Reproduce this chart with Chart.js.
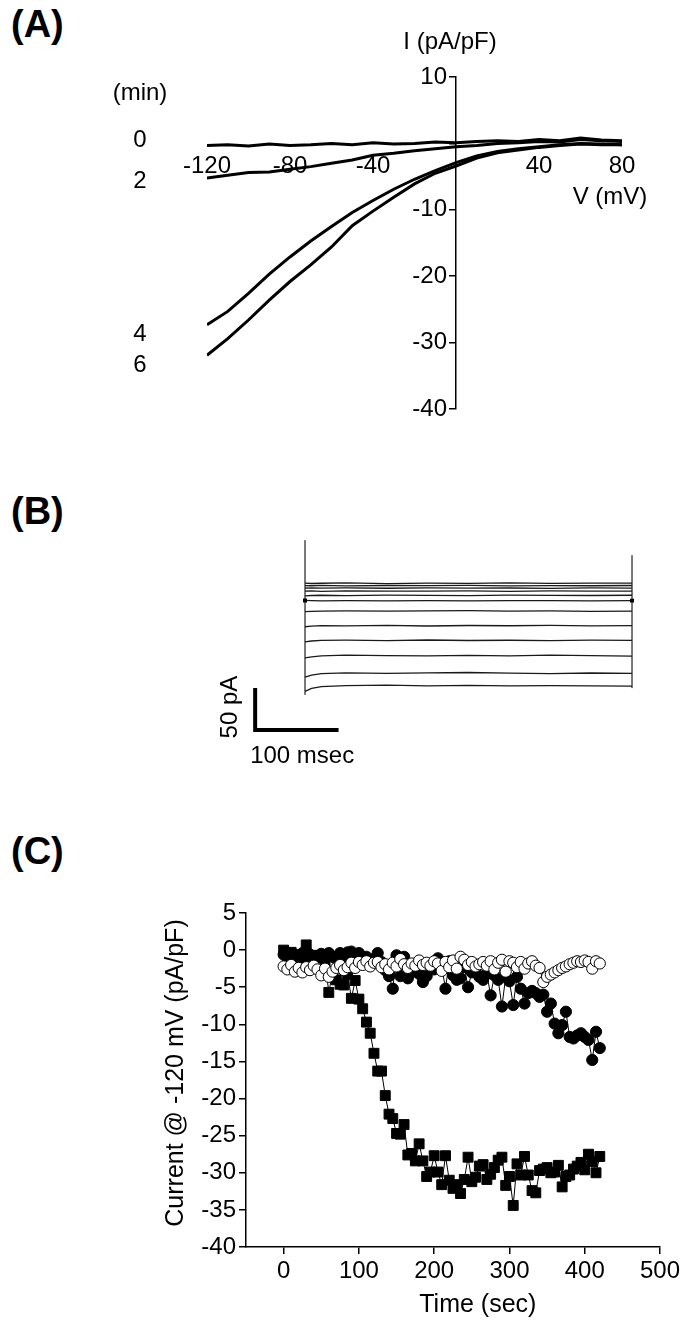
<!DOCTYPE html>
<html>
<head>
<meta charset="utf-8">
<script src="https://cdn.jsdelivr.net/npm/chart.js@4.4.0/dist/chart.umd.min.js"></script>
<style>
  body { margin: 0; background: #fff; width: 684px; height: 1323px; position: relative; overflow: hidden;
         font-family: "Liberation Sans", Arial, sans-serif; }
  .panel-label { position: absolute; left: 11px; font-weight: bold; font-size: 38px; line-height: 1; color: #000; }
  canvas { position: absolute; left: 0; }
</style>
</head>
<body>
<div class="panel-label" style="top:5px">(A)</div>
<div class="panel-label" style="top:492px">(B)</div>
<div class="panel-label" style="top:832px">(C)</div>
<canvas id="chartA" width="684" height="470" style="top:0"></canvas>
<canvas id="chartB" width="684" height="320" style="top:480px"></canvas>
<canvas id="chartC" width="684" height="443" style="top:880px"></canvas>
<script>
// ---- (A) I-V ramps at 0, 2, 4, 6 min ----
const voltageMV = [-120, -110, -100, -90, -80, -70, -60, -50, -40, -30, -20, -10, 0, 10, 20, 30, 40, 50, 60, 70, 80];
const iv0min = [-0.3, -0.2, -0.4, -0.1, -0.3, -0.2, 0.0, -0.2, 0.1, -0.1, 0.0, 0.2, 0.1, 0.3, 0.4, 0.3, 0.6, 0.4, 0.8, 0.5, 0.4];
const iv2min = [-5.2, -4.8, -4.4, -4.3, -3.9, -3.5, -3.0, -2.5, -1.8, -1.5, -1.1, -0.8, -0.5, -0.3, 0.0, 0.1, 0.3, 0.2, 0.6, 0.4, 0.3];
const iv4min = [-27.3, -25.3, -22.6, -19.7, -17.1, -14.7, -12.5, -10.4, -8.6, -6.9, -5.4, -4.1, -2.9, -1.9, -1.2, -0.8, -0.5, -0.2, 0.0, -0.1, -0.2];
const iv6min = [-31.9, -29.4, -26.6, -23.6, -20.8, -18.3, -15.6, -12.4, -10.2, -8.1, -6.1, -4.5, -3.4, -2.2, -1.4, -1.0, -0.6, -0.3, -0.1, -0.2, -0.2];
const voltageTicks = [-120, -80, -40, 40, 80];
const densityTicks = [10, 0, -10, -20, -30, -40];

// ---- (B) current family, step protocol ----
const stepTimeMs = [0, 8, 20, 50, 100, 150, 200, 250, 300, 350, 400];
const sweepCurrentsPA = [
  [21.0, 20.5, 20.8, 21.2, 20.4, 21.0, 20.6, 21.3, 20.7, 20.9, 21.0],
  [18.0, 17.8, 18.2, 17.6, 18.1, 17.9, 18.3, 17.7, 18.0, 17.8, 18.1],
  [15.0, 15.3, 14.9, 15.2, 14.8, 15.3, 15.0, 15.1, 14.7, 15.2, 15.0],
  [11.3, 11.6, 11.2, 11.7, 11.4, 11.5, 11.8, 11.2, 11.6, 11.3, 11.5],
  [5.8, 6.2, 6.5, 6.1, 6.7, 6.3, 6.0, 6.6, 6.4, 6.2, 6.5],
  [0.3, 0.0, -0.2, 0.2, -0.1, 0.1, -0.3, 0.2, 0.0, -0.2, 0.1],
  [-13.0, -12.6, -12.3, -12.0, -12.5, -12.2, -11.9, -12.4, -12.1, -12.6, -12.3],
  [-31.0, -30.2, -29.6, -29.9, -29.3, -30.1, -29.5, -29.8, -29.4, -30.0, -29.7],
  [-49.0, -48.0, -47.3, -47.0, -47.5, -46.8, -47.4, -47.1, -47.6, -47.0, -47.3],
  [-68.0, -66.8, -65.7, -64.9, -65.3, -65.8, -65.1, -65.6, -64.8, -65.4, -65.9],
  [-91.0, -88.5, -86.7, -85.9, -86.4, -86.0, -85.5, -86.3, -86.8, -86.1, -86.6],
  [-108.0, -104.5, -102.3, -101.0, -100.6, -101.3, -100.8, -101.5, -101.0, -101.4, -101.8]
];
const onsetTransientPA = [72, -112];
const offsetTransientPA = [54, -104];
const scaleBarTimeMs = [-61, -61, 41];
const scaleBarCurrentPA = [-104, -154, -154];

// ---- (C) current at -120 mV over time ----
const timeSec = [0, 5, 10, 15, 20, 25, 30, 35, 40, 45, 50, 55, 60, 65, 70, 75, 80, 85, 90, 95,
  100, 105, 110, 115, 120, 125, 130, 135, 140, 145, 150, 155, 160, 165, 170, 175, 180, 185, 190, 195,
  200, 205, 210, 215, 220, 225, 230, 235, 240, 245, 250, 255, 260, 265, 270, 275, 280, 285, 290, 295,
  300, 305, 310, 315, 320, 325, 330, 335, 340, 345, 350, 355, 360, 365, 370, 375, 380, 385, 390, 395,
  400, 405, 410, 415, 420];
const squareCurrent = [0, -0.5, -0.3, -1.0, -0.6, -1.2, 0.7, -0.9, -1.2, -0.7,
  -1.0, -1.5, -5.7, -3.0, -4.0, -4.6, -4.7, -3.3, -6.5, -4.1,
  -6.6, -7.9, -9.7, -11.2, -13.9, -16.3, -16.3, -19.6, -22.1, -22.7,
  -24.7, -24.8, -23.5, -27.6, -27.4, -28.4, -26.1, -28.4, -30.5, -29.9,
  -27.7, -29.9, -31.6, -27.7, -31.0, -32.1, -31.6, -32.8, -30.9, -27.9,
  -31.2, -30.6, -29.1, -28.9, -30.9, -30.2, -29.3, -28.3, -27.9, -31.7,
  -30.5, -34.4, -28.8, -30.3, -27.8, -30.3, -32.4, -32.7, -29.7, -29.5,
  -29.3, -30.0, -29.9, -29.0, -31.9, -30.5, -30.3, -29.5, -29.1, -28.6,
  -29.6, -27.5, -28.5, -30.0, -27.8];
const filledCircleCurrent = [-0.6, -1.0, -0.5, -1.2, -0.8, -0.4, -1.0, -0.6, -1.3, -0.8,
  -0.5, -1.1, -0.4, -0.9, -1.2, -0.4, -1.0, -0.3, -0.2, -1.4,
  -0.4, -1.6, -0.9, -2.0, -1.2, -0.4, -1.6, -2.7, -3.5, -5.2,
  -0.7, -3.5, -0.9, -3.8, -3.0, -2.2, -3.2, -4.3, -3.5, -2.0,
  -2.6, -1.1, -2.2, -5.2, -1.5, -3.4, -4.0, -3.8, -2.3, -5.0,
  -3.0, -2.8, -3.6, -4.0, -3.2, -6.1, -3.4, -4.0, -7.6, -3.6,
  -4.2, -7.4, -3.6, -5.2, -7.2, -5.8, -5.5, -5.8, -6.3, -6.0,
  -8.3, -7.2, -9.9, -11.2, -10.1, -8.3, -11.7, -11.9, -11.5, -11.2,
  -11.7, -12.1, -14.8, -11.0, -13.2];
const openCircleCurrent = [-2.2, -2.6, -2.0, -2.9, -2.4, -3.0, -2.3, -2.7, -2.1, -2.6,
  -3.4, -2.5, -3.6, -2.9, -2.4, -2.0, -2.7, -2.3, -1.7, -2.4,
  -1.6, -2.0, -1.5, -2.2, -1.7, -1.6, -2.3, -1.9, -2.6, -1.7,
  -2.2, -1.2, -1.9, -2.4, -1.8, -2.1, -1.4, -2.0, -1.7, -2.1,
  -1.5, -1.8, -2.8, -1.6, -2.3, -1.4, -2.5, -0.9, -1.3, -2.0,
  -1.6, -2.2, -1.9, -1.6, -2.1, -1.5, -2.6, -1.7, -1.3, -2.9,
  -1.5, -1.7, -2.3, -1.6, -2.5, -1.8, -1.5, -2.1, -2.4, -4.3,
  -3.6, -3.3, -3.0, -2.7, -2.4, -2.2, -1.9, -1.7, -1.5, -1.6,
  -1.4, -1.6, -2.5, -1.5, -1.8];
const timeTicks = [0, 100, 200, 300, 400, 500];
const currentTicks = [5, 0, -5, -10, -15, -20, -25, -30, -35, -40];

const FONT = '"Liberation Sans", Arial, sans-serif';
Chart.defaults.font.family = FONT;
Chart.defaults.color = '#000';

function pairs(xs, ys) {
  return xs.map((x, i) => ({ x: x, y: ys[i] }));
}

function drawText(ctx, text, x, y, opts) {
  ctx.save();
  ctx.font = (opts.size || 24) + 'px ' + FONT;
  ctx.fillStyle = '#000';
  ctx.textAlign = opts.align || 'center';
  ctx.textBaseline = 'middle';
  ctx.translate(x, y);
  if (opts.rotate) ctx.rotate(opts.rotate);
  ctx.fillText(text, 0, 0);
  ctx.restore();
}

const baseOptions = {
  responsive: false,
  animation: false,
  events: [],
  plugins: { legend: { display: false }, tooltip: { enabled: false } }
};

// (A)
const ivLabels = {
  id: 'ivLabels',
  afterDraw(chart) {
    const ctx = chart.ctx;
    const xs = chart.scales.x, ys = chart.scales.y;
    const area = chart.chartArea;
    const axisX = xs.getPixelForValue(0);
    // y tick labels sit left of the crossing axis
    ys.ticks.forEach(t => {
      if (t.value !== 0) drawText(ctx, String(t.value), axisX - 9, ys.getPixelForValue(t.value), { align: 'right' });
    });
    drawText(ctx, 'I (pA/pF)', axisX - 6, area.top - 35, {});
    drawText(ctx, 'V (mV)', area.right - 12, 197, {});
    drawText(ctx, '(min)', 140, 93, {});
    drawText(ctx, '0', 140, 140, {});
    drawText(ctx, '2', 140, 181, {});
    drawText(ctx, '4', 140, 334, {});
    drawText(ctx, '6', 140, 365, {});
  }
};

const ivStyle = { borderColor: '#000', borderWidth: 3, pointRadius: 0, fill: false };
new Chart(document.getElementById('chartA'), {
  type: 'line',
  data: {
    datasets: [
      Object.assign({ label: '0 min', data: pairs(voltageMV, iv0min) }, ivStyle),
      Object.assign({ label: '2 min', data: pairs(voltageMV, iv2min) }, ivStyle),
      Object.assign({ label: '4 min', data: pairs(voltageMV, iv4min) }, ivStyle),
      Object.assign({ label: '6 min', data: pairs(voltageMV, iv6min) }, ivStyle)
    ]
  },
  options: Object.assign({}, baseOptions, {
    layout: { padding: { left: 207, right: 62, top: 77, bottom: 61 } },
    scales: {
      x: {
        type: 'linear', min: -120, max: 80, position: { y: 0 },
        afterBuildTicks: s => { s.ticks = voltageTicks.map(v => ({ value: v })); },
        afterFit: s => { s.height = 0; },
        border: { display: false },
        grid: { display: false, drawTicks: false },
        ticks: { font: { size: 24 }, padding: 9, maxRotation: 0, autoSkip: false }
      },
      y: {
        type: 'linear', min: -40, max: 10, position: { x: 0 },
        afterBuildTicks: s => { s.ticks = densityTicks.map(v => ({ value: v })); },
        afterFit: s => { s.width = 0; },
        border: { display: true, color: '#000', width: 1.5 },
        grid: { drawOnChartArea: false, tickLength: 6, color: '#000', lineWidth: 1.5 },
        ticks: { display: false }
      }
    }
  }),
  plugins: [ivLabels]
});

// (B)
const barLabels = {
  id: 'barLabels',
  afterDraw(chart) {
    const ctx = chart.ctx;
    const xs = chart.scales.x, ys = chart.scales.y;
    const barX = xs.getPixelForValue(scaleBarTimeMs[0]);
    const barTop = ys.getPixelForValue(scaleBarCurrentPA[0]);
    const barBottom = ys.getPixelForValue(scaleBarCurrentPA[1]);
    drawText(ctx, '50 pA', barX - 25, (barTop + barBottom) / 2 - 2, { rotate: -Math.PI / 2 });
    drawText(ctx, '100 msec', barX - 5, barBottom + 26, { align: 'left' });
  }
};

const sweepSets = sweepCurrentsPA.map((vals, k) => ({
  label: 'sweep ' + (k + 1),
  data: pairs(stepTimeMs, vals),
  borderColor: '#1a1a1a', borderWidth: 1.3, fill: false,
  pointStyle: 'rect', pointBackgroundColor: '#000', pointBorderWidth: 0,
  pointRadius: ctx => (k === 5 && (ctx.dataIndex === 0 || ctx.dataIndex === stepTimeMs.length - 1)) ? 2.8 : 0
}));
new Chart(document.getElementById('chartB'), {
  type: 'line',
  data: {
    datasets: sweepSets.concat([
      { label: 'onset', data: pairs([0, 0], onsetTransientPA), borderColor: '#666', borderWidth: 1, pointRadius: 0 },
      { label: 'offset', data: pairs([stepTimeMs[stepTimeMs.length - 1], stepTimeMs[stepTimeMs.length - 1]], offsetTransientPA), borderColor: '#666', borderWidth: 1, pointRadius: 0 },
      { label: 'scale bar', data: pairs(scaleBarTimeMs, scaleBarCurrentPA), borderColor: '#000', borderWidth: 4,
        borderJoinStyle: 'miter', borderCapStyle: 'butt', pointRadius: 0 }
    ])
  },
  options: Object.assign({}, baseOptions, {
    layout: { padding: { left: 247.8, right: 43.8, top: 45.1, bottom: 56.5 } },
    scales: {
      x: { type: 'linear', min: -70, max: 410, display: false },
      y: { type: 'linear', min: -170, max: 90, display: false }
    }
  }),
  plugins: [barLabels]
});

// (C)
const timeTitles = {
  id: 'timeTitles',
  afterDraw(chart) {
    const ctx = chart.ctx;
    const xs = chart.scales.x;
    const area = chart.chartArea;
    drawText(ctx, 'Time (sec)', (xs.getPixelForValue(0) + area.right) / 2 + 6, area.bottom + 58, { size: 25 });
    drawText(ctx, 'Current @ -120 mV (pA/pF)', 176, (area.top + area.bottom) / 2 - 7, { size: 25, rotate: -Math.PI / 2 });
  }
};

new Chart(document.getElementById('chartC'), {
  type: 'line',
  data: {
    datasets: [
      { label: 'open', data: pairs(timeSec, openCircleCurrent), order: 1,
        borderColor: '#000', borderWidth: 1, pointStyle: 'circle', pointRadius: 5.6,
        pointBackgroundColor: '#fff', pointBorderColor: '#000', pointBorderWidth: 1 },
      { label: 'filled circle', data: pairs(timeSec, filledCircleCurrent), order: 2,
        borderColor: '#000', borderWidth: 1, pointStyle: 'circle', pointRadius: 5.6,
        pointBackgroundColor: '#000', pointBorderColor: '#000', pointBorderWidth: 1 },
      { label: 'square', data: pairs(timeSec, squareCurrent), order: 3,
        borderColor: '#000', borderWidth: 1, pointStyle: 'rect', pointRadius: 7,
        pointBackgroundColor: '#000', pointBorderColor: '#000', pointBorderWidth: 1 }
    ]
  },
  options: Object.assign({}, baseOptions, {
    layout: { padding: { left: 0, right: 24, top: 33, bottom: 0 } },
    scales: {
      x: {
        type: 'linear', min: -50, max: 500,
        afterBuildTicks: s => { s.ticks = timeTicks.map(v => ({ value: v })); },
        afterFit: s => { s.height = 76; },
        border: { display: true, color: '#000', width: 1.5 },
        grid: { drawOnChartArea: false, tickLength: 7, color: '#000', lineWidth: 1.5 },
        ticks: { font: { size: 24 }, padding: 3, maxRotation: 0, autoSkip: false }
      },
      y: {
        type: 'linear', min: -40, max: 5,
        afterBuildTicks: s => { s.ticks = currentTicks.map(v => ({ value: v })); },
        afterFit: s => { s.width = 246; },
        border: { display: true, color: '#000', width: 1.5 },
        grid: { drawOnChartArea: false, tickLength: 7, color: '#000', lineWidth: 1.5 },
        ticks: { font: { size: 24 }, padding: 3, autoSkip: false }
      }
    }
  }),
  plugins: [timeTitles]
});
</script>
</body>
</html>
